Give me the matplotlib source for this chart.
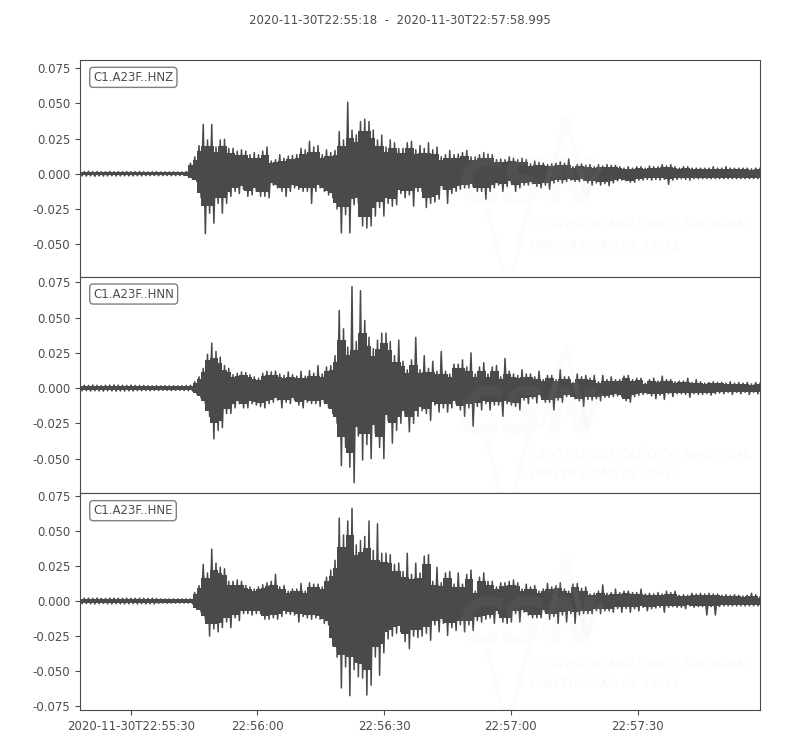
import numpy as np
import pandas as pd
import matplotlib
matplotlib.use("Agg")
import matplotlib.pyplot as plt
import matplotlib.dates as mdates

# peak amplitudes read per second from the picture, in units of 0.001
start_time = "2020-11-30T22:55:18"
end_time = "2020-11-30T22:57:58.995"
channels = ["C1.A23F..HNZ", "C1.A23F..HNN", "C1.A23F..HNE"]

tick_times = ["2020-11-30T22:55:30", "2020-11-30T22:56:00", "2020-11-30T22:56:30",
              "2020-11-30T22:57:00", "2020-11-30T22:57:30"]
tick_labels = ["2020-11-30T22:55:30", "22:56:00", "22:56:30", "22:57:00", "22:57:30"]
y_ticks_short = [-0.05, -0.025, 0.0, 0.025, 0.05, 0.075]
y_ticks_full = [-0.075, -0.05, -0.025, 0.0, 0.025, 0.05, 0.075]

hnz_quiet_up = [1.6, 1.5, 1.7, 1.5, 1.6, 1.4, 1.5, 1.6, 1.4, 1.5, 1.5, 1.6, 1.4,
                1.5, 1.6, 1.4, 1.3, 1.4, 1.5, 1.3, 1.4, 1.3, 1.4, 1.3, 1.3, 1.5]
hnz_quiet_dn = [1.5, 1.6, 1.5, 1.8, 1.5, 1.6, 1.5, 1.4, 1.6, 1.5, 1.4, 1.5, 1.5,
                1.4, 1.5, 1.3, 1.4, 1.3, 1.4, 1.3, 1.3, 1.4, 1.3, 1.3, 1.3, 1.6]
hnz_up = [7.5, 12, 20, 35, 24, 35, 19, 24, 24.5, 18,
          18, 16, 17, 16, 13.5, 15, 13.5, 16, 19, 9,
          10, 13.5, 11, 12.5, 13, 13.5, 18, 17, 23, 19,
          20, 13.5, 17, 15, 16.5, 30, 24, 50.7, 31, 27.5,
          37, 38.7, 37, 31, 24, 27.5, 19, 24, 22, 18,
          18, 22, 23, 17, 20, 18, 22, 17, 19, 12,
          13.5, 16.5, 13.5, 14, 15, 16.5, 12, 12, 13.5, 15,
          14, 13.5, 10, 10.5, 10, 12, 11, 10, 11, 10,
          7, 9, 8, 7.5, 6.5, 7, 7.5, 8.5, 7.5, 10.5,
          5, 6.5, 7, 6, 6.5, 5, 6.5, 5.5, 6.5, 6,
          6, 5, 4, 5, 4, 5, 5, 4, 5.5, 5,
          5, 6.5, 5.5, 6.5, 5, 4, 5, 5, 4, 4,
          4, 4, 4, 5, 4, 4, 5, 4, 4, 4,
          4, 4, 3.5, 4, 4]
hnz_dn = [4, 5.5, 17, 42.5, 28, 35, 21, 28, 21, 16,
          12.5, 14, 11, 16, 15, 12.5, 16, 16, 17, 8,
          10, 12.5, 16, 12.5, 10, 11, 12.5, 12.5, 21, 12.5,
          10, 12.5, 15, 17, 25, 42, 29, 42, 22, 21,
          37, 38.5, 37, 30, 24, 30, 21, 23, 22, 14,
          17, 15, 23, 12.5, 12.5, 24, 21, 20, 18, 11,
          21, 14, 12.5, 11, 10, 10, 9, 12.5, 12.5, 18,
          12.5, 10, 8, 12.5, 9, 6.5, 12.5, 10, 8, 8,
          7, 9, 10, 8, 11, 6.5, 5.5, 6.5, 5.5, 4.5,
          5.5, 5.5, 4.5, 6.5, 8, 6.5, 8, 7, 8.5, 6.5,
          5, 4.5, 5, 6, 6, 4.5, 4.5, 4, 4.5, 4,
          4.5, 4, 7.5, 4.5, 4, 3.5, 4, 4.5, 3.5, 3.5,
          3.5, 3.5, 3.5, 3.5, 3.5, 3.5, 3.5, 3.5, 3.5, 3.5,
          3.5, 3.5, 3.5, 3.5, 3.5]

hnn_quiet_up = [1.8, 2, 1.9, 2.2, 2, 1.8, 2, 2.1, 2.3, 2.1, 2, 1.9, 2.1,
                1.9, 1.8, 1.9, 1.7, 1.6, 1.7, 1.6, 1.7, 1.6, 1.6, 1.6, 1.7, 1.8]
hnn_quiet_dn = [1.9, 1.8, 2.1, 1.9, 2, 2.1, 1.9, 2, 2.2, 2, 2.1, 1.9, 2,
                1.8, 1.9, 1.7, 1.8, 1.6, 1.7, 1.6, 1.6, 1.7, 1.6, 1.6, 1.7, 1.8]
hnn_up = [2, 4.5, 8, 14, 24, 32, 26, 22, 16, 14,
          9.5, 10.5, 11.5, 11, 9.5, 8, 7, 10.5, 12, 11.5,
          12, 10, 9, 11.5, 9.5, 8.5, 12, 8.5, 12.5, 10.5,
          16, 10, 15, 16, 23, 55, 42, 29, 72, 33,
          69, 48, 36, 28, 34, 39, 39, 33, 23, 34,
          19, 13, 20, 36, 13, 23, 14, 19, 12, 26,
          12, 10, 17, 17, 20, 15, 25, 10, 15, 18,
          10, 15, 16, 8, 21, 12, 10, 9, 13, 10,
          10, 8, 12, 6, 9, 9, 6, 13, 8, 8,
          4, 10, 8, 9, 7, 9, 4.5, 9, 6, 8,
          6, 6, 8.5, 9, 6, 7, 7, 3.5, 6, 7,
          5, 8.5, 6, 6, 4.5, 5, 5, 7, 4, 6,
          4.5, 3.5, 4, 4.5, 4, 4, 3.5, 4.5, 3.5, 4,
          3.5, 4, 3, 4, 3.5]
hnn_dn = [2, 4, 7, 11, 20, 36, 30, 28, 18, 18,
          14, 11, 14, 14, 11, 12, 13, 14, 11, 10,
          8.5, 14, 10, 11, 8.5, 12, 14, 10, 11, 11,
          13, 10, 14, 18, 25, 55, 42, 56, 67, 34,
          51, 40, 50, 32, 42, 50, 23, 39, 30, 25,
          20, 31, 25, 20, 16, 18, 23, 12, 17, 14,
          17, 14, 11, 15.5, 20, 14, 27, 13, 15.5, 11,
          15.5, 12, 12, 20, 11, 12, 13, 15.5, 8.5, 11,
          7.5, 10.5, 6, 10, 10, 15.5, 8.5, 10, 6, 6,
          7.5, 9, 13, 8, 8.5, 7.5, 9, 6.5, 6.5, 6,
          5.5, 6, 9, 10, 6, 5, 4.5, 4, 5.5, 7.5,
          5, 8, 4, 6, 4, 4, 4.5, 6.5, 4, 4.5,
          4.5, 4, 5, 4, 3.5, 4, 3, 4.5, 3, 4,
          3, 4.5, 3, 4, 3]

hne_quiet_up = [1.7, 2, 2, 1.9, 2.1, 1.9, 1.8, 2, 2.1, 2, 1.9, 2, 1.9,
                2, 2, 1.9, 1.9, 2, 1.7, 1.5, 1.5, 1.5, 1.5, 1.5, 1.5, 1.5]
hne_quiet_dn = [1.9, 1.8, 2, 2.1, 1.9, 1.8, 2, 2.1, 1.9, 2, 2.1, 2, 1.9,
                2.1, 1.9, 2.1, 2, 2.1, 1.7, 1.5, 1.6, 1.5, 1.5, 1.5, 1.5, 1.5]
hne_up = [1.5, 6, 11, 26, 20, 37, 27, 24, 23, 14,
          14, 15, 14, 11, 10, 8.5, 10, 11.5, 13, 14,
          19, 10, 11, 7, 8.5, 8.5, 12.5, 7, 13, 12,
          12, 10, 17, 22, 29, 59, 47, 57, 66, 40,
          43, 46, 57, 36, 55, 34, 34, 33, 26, 27,
          21, 34, 19, 27, 20, 32, 33, 14, 24, 13,
          20, 21, 12, 20, 12, 19, 22, 7, 17, 20,
          14, 14, 10, 13, 13, 14, 15, 13, 8.5, 12,
          10, 11, 7, 8.5, 12.5, 10, 11, 13, 8.5, 7,
          12, 12.5, 9, 10, 5, 5.5, 7, 11.5, 5.5, 6,
          8.5, 6, 7, 7, 6, 6, 8.5, 5, 5.5, 5,
          6, 5, 7, 6, 7, 4, 4.5, 4, 5.5, 5,
          5.5, 5, 5.5, 5, 5, 4, 4.5, 4, 4.5, 4,
          3.5, 4, 5.5, 4.5, 3]
hne_dn = [2, 6, 8, 13, 25, 20, 22, 19, 15, 19,
          12, 14, 9, 9, 10, 9, 9, 13, 13, 12,
          13, 11, 9, 9.5, 10, 15, 11, 12, 13, 12,
          13, 16, 17, 32, 40, 62, 47, 67.5, 49, 54,
          55, 67, 60, 40, 53, 37, 27, 25, 23, 22,
          29, 34, 25, 26, 25, 23, 28, 17, 22, 16,
          24.5, 19, 21, 17, 22, 17, 21, 14, 15, 13,
          12, 16, 9, 15, 16, 15, 9, 15, 8, 10,
          12, 12, 12, 8, 13, 11, 16, 10, 15, 9,
          16, 10, 9, 9, 9, 7, 9, 7, 7, 8,
          5.5, 8, 5.5, 8, 5.5, 7, 4.5, 7, 5.5, 5,
          4.5, 8, 4.5, 4, 4.5, 4.5, 5.5, 3.5, 4.5, 4,
          4, 10, 4, 10, 4, 3.5, 3.5, 3.5, 3.5, 3.5,
          3.5, 3.5, 3.5, 3.5, 3.5]

traces = [(hnz_quiet_up + hnz_up, hnz_quiet_dn + hnz_dn),
          (hnn_quiet_up + hnn_up, hnn_quiet_dn + hnn_dn),
          (hne_quiet_up + hne_up, hne_quiet_dn + hne_dn)]
y_limits = [(-0.0730, 0.0807), (-0.0746, 0.0790), (-0.0777, 0.0767)]
panel_ticks = [y_ticks_short, y_ticks_short, y_ticks_full]

INK = "#4a4a4a"
TEXT = "#4d4d4d"
plt.rcParams["font.family"] = "DejaVu Sans"
plt.rcParams["font.size"] = 8.5


def draw_watermark(ax, shift):
    # faint logo sits on top of the trace
    box = ax.transAxes
    opts = dict(transform=box, color="#d0d0d0", style="italic", zorder=5)
    ax.text(0.555, 0.33 + shift, "CSN", fontsize=45, fontweight="bold", alpha=0.05, **opts)
    ax.text(0.663, 0.215 + shift, "CENTRO SISMOLÓGICO NACIONAL", fontsize=9.3, alpha=0.12, **opts)
    ax.text(0.662, 0.12 + shift, "UNIVERSIDAD DE CHILE", fontsize=9.1, alpha=0.12, **opts)
    ax.plot([0.68, 0.715, 0.745, 0.765], [0.36 + shift, 0.72 + shift, 0.36 + shift, 0.5 + shift],
            transform=box, color="#d8d8d8", alpha=0.07, lw=4, zorder=5)
    ax.plot([0.60, 0.62, 0.637, 0.66], [0.29 + shift, 0.03 + shift, 0.03 + shift, 0.32 + shift],
            transform=box, color="#d8d8d8", alpha=0.07, lw=4, zorder=5)


def plot_trace(ax, up, dn):
    up = pd.Series(up, dtype=float) / 1000
    dn = pd.Series(dn, dtype=float) / 1000
    sec = np.linspace(0, (pd.Timestamp(end_time) - pd.Timestamp(start_time)).total_seconds(), len(up))
    t = mdates.date2num(pd.Timestamp(start_time)) + sec / 86400
    half = 0.5 / 86400

    # solid body of the signal, the peaks stay as a zigzag over it
    body_up = np.minimum(up, up.rolling(3, center=True, min_periods=1).median()) * 0.82
    body_dn = np.minimum(dn, dn.rolling(3, center=True, min_periods=1).median()) * 0.82
    ax.fill_between(t, -body_dn, body_up, color=INK, lw=0, step="mid")
    x = np.column_stack([t, t + half]).ravel()
    y = np.column_stack([up, -dn]).ravel()
    ax.plot(x, y, color=INK, lw=1.1)


fig, axes = plt.subplots(3, 1, figsize=(8, 7.5), dpi=100, sharex=True)
fig.subplots_adjust(left=0.1, right=0.95, top=0.92, bottom=0.0533, hspace=0)

for ax, name, (up, dn), lim, ticks, shift in zip(axes, channels, traces, y_limits, panel_ticks, [0.01, -0.05, -0.02]):
    plot_trace(ax, up, dn)
    draw_watermark(ax, shift)
    ax.set_yticks(ticks)
    ax.set_yticklabels([f"{v:.3f}" for v in ticks])
    ax.set_ylim(*lim)
    ax.tick_params(colors=TEXT, labelsize=8.5, length=3.5, width=0.8)
    for spine in ax.spines.values():
        spine.set_color(INK)
    ax.text(0.0195, 0.92, name, transform=ax.transAxes, color=TEXT, fontsize=8.5, va="center",
            bbox=dict(boxstyle="round,pad=0.3", fc="white", ec="#808080", lw=1.0), zorder=6)

axes[0].set_xlim(mdates.date2num(pd.Timestamp(start_time)), mdates.date2num(pd.Timestamp(end_time)))
axes[2].set_xticks([mdates.date2num(pd.Timestamp(s)) for s in tick_times])
axes[2].set_xticklabels(tick_labels)
fig.text(0.5, 0.972, f"{start_time}  -  {end_time}", ha="center", va="center", color=TEXT, fontsize=8.45)

fig.savefig("out.png", dpi=100)
